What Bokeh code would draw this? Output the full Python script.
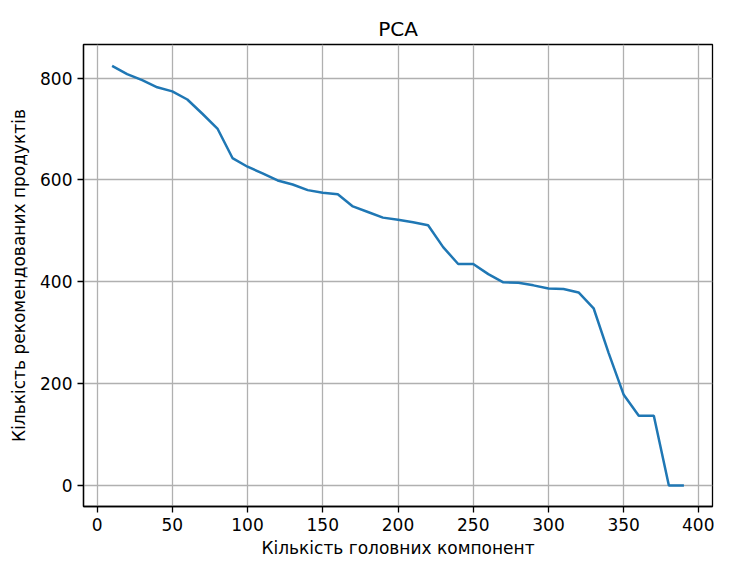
from bokeh.plotting import figure
from bokeh.models import Range1d, FixedTicker
from bokeh.embed import file_html
from bokeh.resources import INLINE

components = [10, 20, 30, 40, 50, 60, 70, 80, 90, 100, 110, 120, 130, 140, 150, 160, 170, 180, 190, 200,
              210, 220, 230, 240, 250, 260, 270, 280, 290, 300, 310, 320, 330, 340, 350, 360, 370, 380, 390]
products = [824, 808, 796, 782, 774, 758, 730, 701, 643, 626, 613, 599, 591, 580, 575, 572, 548, 537, 526, 522,
            517, 511, 468, 435, 435, 415, 399, 398, 393, 387, 386, 379, 348, 260, 178, 137, 137, 0, 0]

x_ticks = [0, 50, 100, 150, 200, 250, 300, 350, 400]
y_ticks = [0, 200, 400, 600, 800]

FONT = "DejaVu Sans"

p = figure(width=714, height=560, output_backend="svg", toolbar_location=None,
           title="PCA",
           x_range=Range1d(-9, 409), y_range=Range1d(-41.3, 866),
           min_border_left=83, min_border_right=2, min_border_top=44, min_border_bottom=52)

p.line(components, products, line_color="#1f77b4", line_width=2.5)

p.title.align = "center"
p.title.text_font = FONT
p.title.text_font_size = "20px"
p.title.text_font_style = "normal"
p.title.text_color = "black"
p.title.standoff = 8

p.outline_line_color = "black"
p.outline_line_width = 1.3
p.outline_line_alpha = 1

p.xaxis.ticker = FixedTicker(ticks=x_ticks)
p.yaxis.ticker = FixedTicker(ticks=y_ticks)
p.xaxis.axis_label = "Кількість головних компонент"
p.yaxis.axis_label = "Кількість рекомендованих продуктів"

for ax in [p.xaxis[0], p.yaxis[0]]:
    ax.axis_label_text_font = FONT
    ax.axis_label_text_font_size = "17px"
    ax.axis_label_text_font_style = "normal"
    ax.axis_label_text_color = "black"
    ax.major_label_text_font = FONT
    ax.major_label_text_font_size = "17px"
    ax.major_label_text_color = "black"
    ax.axis_line_color = "black"
    ax.axis_line_width = 1.3
    ax.major_tick_line_color = "black"
    ax.major_tick_line_width = 1.3
    ax.major_tick_out = 6
    ax.major_tick_in = 0
    ax.minor_tick_line_color = None
    ax.major_label_standoff = 5

p.xaxis.axis_label_standoff = 4
p.yaxis.axis_label_standoff = 8

p.xgrid.grid_line_color = "#b0b0b0"
p.ygrid.grid_line_color = "#b0b0b0"
p.xgrid.grid_line_width = 1.3
p.ygrid.grid_line_width = 1.3
p.background_fill_color = "white"
p.border_fill_color = "white"

open("out.html", "w").write(file_html(p, INLINE))
